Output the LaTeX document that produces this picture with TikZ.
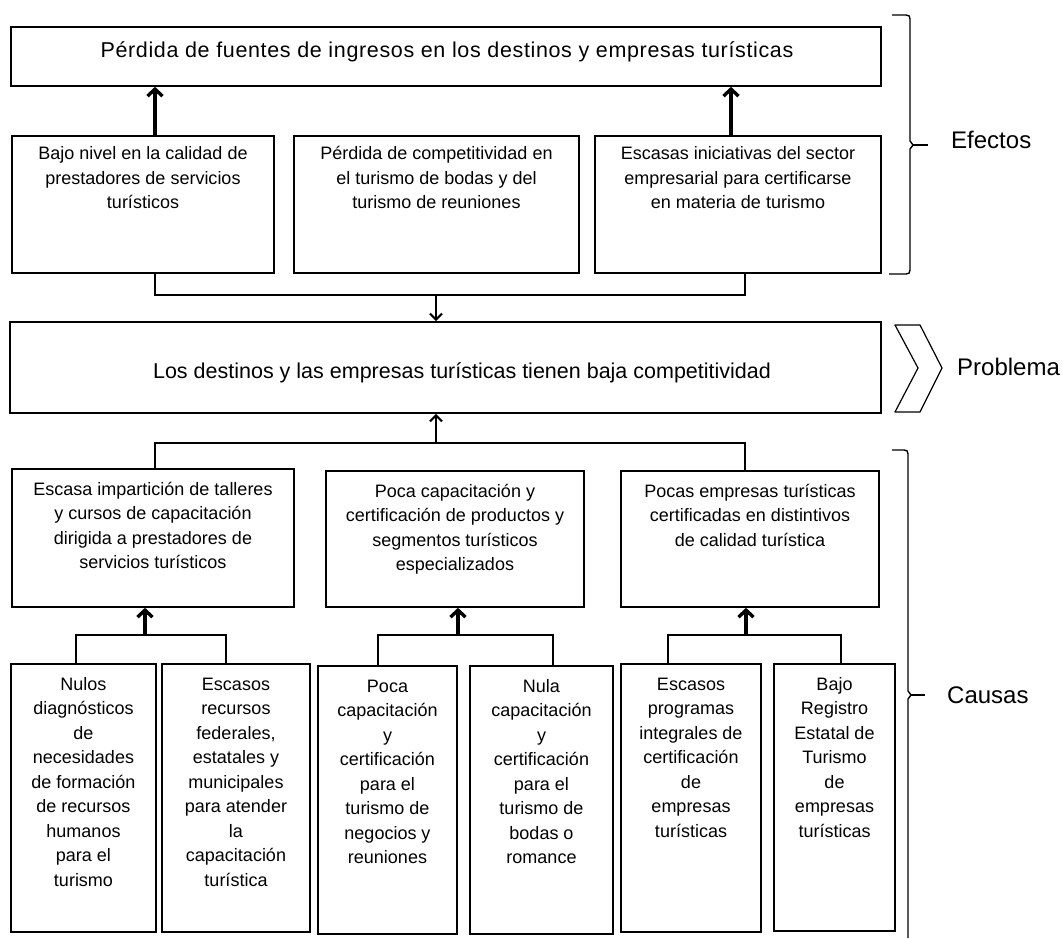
\documentclass[tikz,border=0pt]{standalone}
\usepackage{fontspec}
\setmainfont{Liberation Sans}
\usetikzlibrary{arrows.meta,fit}
\begin{document}
\begin{tikzpicture}[x=1pt,y=-1pt,
  box/.style={draw, line width=1.6pt, inner sep=0pt},
  txt/.style={font=\fontsize{18}{24.5}\selectfont, align=center, inner sep=0pt, anchor=north},
  big/.style={font=\fontsize{21.5}{26}\selectfont, anchor=base, inner sep=0pt},
  conn/.style={line width=1.4pt},
  bigarrow/.style={line width=3.4pt, -{Straight Barb[length=7pt,width=15pt]}},
  midarrow/.style={line width=2.2pt, -{Straight Barb[length=6pt,width=12pt]}},
  lbl/.style={font=\fontsize{24}{28}\selectfont, anchor=base west, inner sep=0pt},
  brace/.style={line width=1.4pt, line join=round}
]
\useasboundingbox (0,0) rectangle (1063,938);

% coordinates for connector columns / rows
\coordinate (xa) at (155,0);
\coordinate (xb) at (731,0);
\coordinate (xc) at (745,0);
\coordinate (xm) at (436,0);
\coordinate (yE) at (0,295);
\coordinate (yC) at (0,443);
\coordinate (yD) at (0,635);
\coordinate (x1) at (145,0);
\coordinate (x2) at (458,0);
\coordinate (x3) at (746,0);
\coordinate (d1) at (76,0);
\coordinate (d2) at (226,0);
\coordinate (d3) at (378,0);
\coordinate (d4) at (553,0);
\coordinate (d5) at (668,0);
\coordinate (d6) at (841,0);

% top effect
\node[box, fit={(11,27)(881,86)}] (T) {};
\node[big, font=\fontsize{21.5}{26}\selectfont\addfontfeatures{LetterSpace=3}] (Tt) at (447,57) {Pérdida de fuentes de ingresos en los destinos y empresas turísticas};

% effects row
\node[box, fit={(12,136)(274,273)}] (E1) {};
\node[box, fit={(294,136)(579,273)}] (E2) {};
\node[box, fit={(595,136)(881,273)}] (E3) {};
\node[txt, yshift=-7.4pt] (E1t) at (E1.north) {\strut Bajo nivel en la calidad de\\prestadores de servicios\\turísticos};
\node[txt, yshift=-7.4pt] (E2t) at (E2.north) {\strut Pérdida de competitividad en\\el turismo de bodas y del\\turismo de reuniones};
\node[txt, yshift=-7.4pt] (E3t) at (E3.north) {\strut Escasas iniciativas del sector\\empresarial para certificarse\\en materia de turismo};

% problem
\node[box, fit={(10,322)(881,413)}] (M) {};
\node[big] (Mt) at (462,378) {Los destinos y las empresas turísticas tienen baja competitividad};

% causes row
\node[box, fit={(12,469)(294,607)}] (C1) {};
\node[box, fit={(326,471)(584,607)}] (C2) {};
\node[box, fit={(621,471)(879,607)}] (C3) {};
\node[txt, yshift=-9.8pt] (C1t) at (C1.north) {\strut Escasa impartición de talleres\\y cursos de capacitación\\dirigida a prestadores de\\servicios turísticos};
\node[txt, yshift=-9.8pt] (C2t) at (C2.north) {\strut Poca capacitación y\\certificación de productos y\\segmentos turísticos\\especializados};
\node[txt, yshift=-9.8pt] (C3t) at (C3.north) {\strut Pocas empresas turísticas\\certificadas en distintivos\\de calidad turística};

% sub-causes row
\node[box, fit={(11,664)(156,932)}] (D1) {};
\node[box, fit={(162,664)(310,932)}] (D2) {};
\node[box, fit={(318,666)(457,934)}] (D3) {};
\node[box, fit={(470,666)(613,934)}] (D4) {};
\node[box, fit={(621,664)(761,932)}] (D5) {};
\node[box, fit={(774,664)(895,931)}] (D6) {};
\node[txt, yshift=-9.8pt] (D1t) at (D1.north) {\strut Nulos\\diagnósticos\\de\\necesidades\\de formación\\de recursos\\humanos\\para el\\turismo};
\node[txt, yshift=-9.8pt] (D2t) at (D2.north) {\strut Escasos\\recursos\\federales,\\estatales y\\municipales\\para atender\\la\\capacitación\\turística};
\node[txt, yshift=-9.8pt] (D3t) at (D3.north) {\strut Poca\\capacitación\\y\\certificación\\para el\\turismo de\\negocios y\\reuniones};
\node[txt, yshift=-9.8pt] (D4t) at (D4.north) {\strut Nula\\capacitación\\y\\certificación\\para el\\turismo de\\bodas o\\romance};
\node[txt, yshift=-9.8pt] (D5t) at (D5.north) {\strut Escasos\\programas\\integrales de\\certificación\\de\\empresas\\turísticas};
\node[txt, yshift=-9.8pt] (D6t) at (D6.north) {\strut Bajo\\Registro\\Estatal de\\Turismo\\de\\empresas\\turísticas};

% connectors: effects
\draw[bigarrow] (E1.north -| xa) -- (T.south -| xa);
\draw[bigarrow] (E3.north -| xb) -- (T.south -| xb);
\draw[conn] (E1.south -| xa) -- (xa |- yE) -- (xc |- yE) -- (E3.south -| xc);
\draw[midarrow] (xm |- yE) -- (M.north -| xm);

% connectors: causes
\draw[midarrow] (xm |- yC) -- (M.south -| xm);
\draw[conn] (C1.north -| xa) -- (xa |- yC) -- (xc |- yC) -- (C3.north -| xc);

% connectors: sub-causes
\draw[conn] (D1.north -| d1) -- (d1 |- yD) -- (d2 |- yD) -- (D2.north -| d2);
\draw[conn] (D3.north -| d3) -- (d3 |- yD) -- (d4 |- yD) -- (D4.north -| d4);
\draw[conn] (D5.north -| d5) -- (d5 |- yD) -- (d6 |- yD) -- (D6.north -| d6);
\draw[bigarrow] (x1 |- yD) -- (C1.south -| x1);
\draw[bigarrow] (x2 |- yD) -- (C2.south -| x2);
\draw[bigarrow] (x3 |- yD) -- (C3.south -| x3);

% brace: Efectos
\draw[brace] (892,15) -- (906,15) .. controls (909,15) and (910,16) .. (910,19)
  -- (910,141) -- (913,145) -- (910,149) -- (910,270)
  .. controls (910,273) and (909,274) .. (906,274) -- (889,274);
\draw[brace] (913,145) -- (928,145);
\node[lbl] (Lef) at (951,148) {Efectos};

% chevron: Problema
\draw[line width=1.2pt, line join=round] (895,325) -- (920,325) -- (942,368) -- (920,412) -- (895,412) -- (918,368) -- cycle;
\node[lbl] (Lpr) at (957,375) {Problema};

% brace: Causas
\draw[brace] (892,450) -- (904,450) .. controls (907,450) and (908,451) .. (908,454)
  -- (908,691) -- (911,695) -- (908,699) -- (908,938);
\draw[brace] (911,695) -- (925,695);
\node[lbl] (Lca) at (947,703) {Causas};
\end{tikzpicture}
\end{document}
